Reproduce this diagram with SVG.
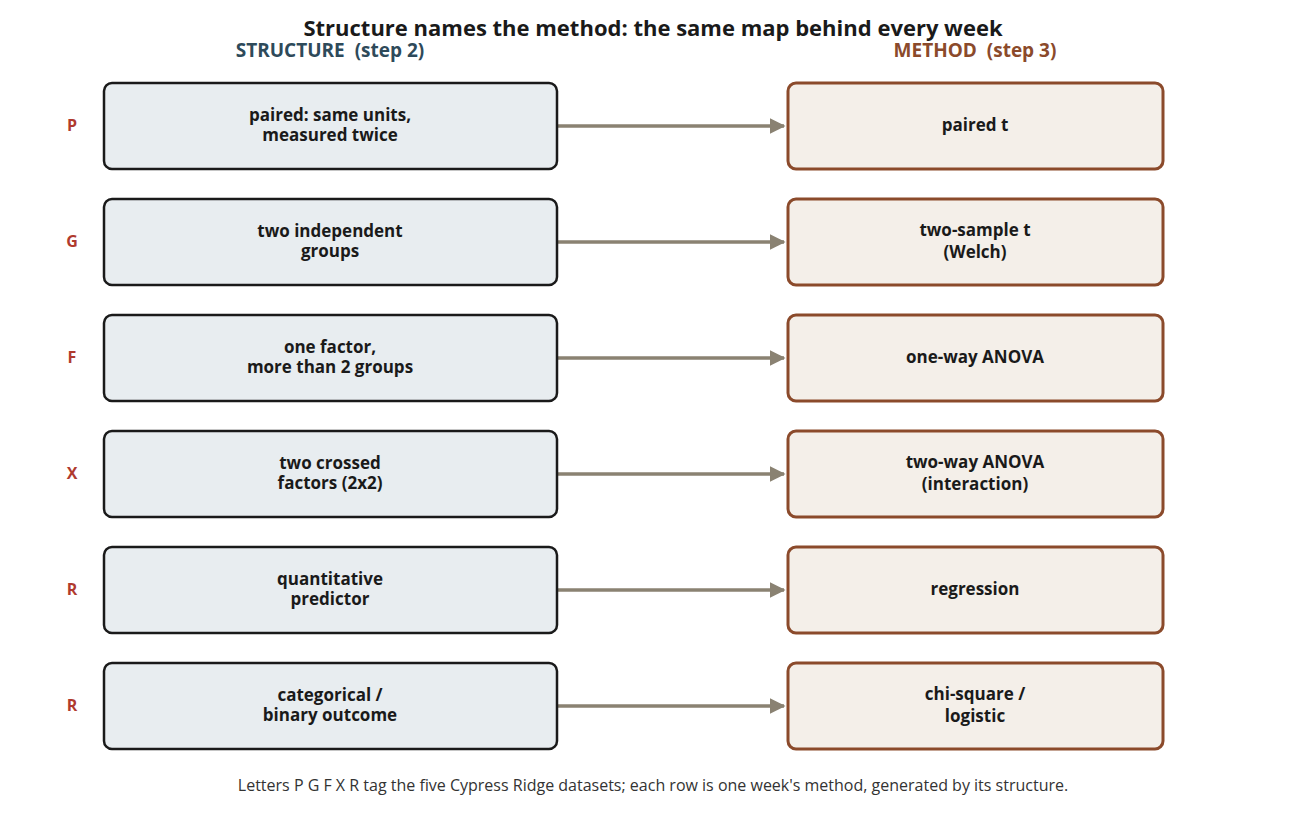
<svg xmlns="http://www.w3.org/2000/svg" width="1306" height="813" viewBox="0 0 1306 813">
<style>
text{font-family:"Open Sans","Noto Sans","DejaVu Sans",sans-serif;font-weight:bold;text-anchor:middle}
.s rect{fill:#e8edf0;stroke:#1a1a1a;stroke-width:2.5}
.m rect{fill:#f4efe9;stroke:#8b4a2b;stroke-width:3}
.t{font-size:17px;fill:#1a1a1a}
.l{font-size:16px;fill:#b03a2e}
.c line{stroke:#8a8272;stroke-width:3.5}
.f{font-weight:normal;font-size:16px;fill:#333}
</style>
<defs><marker id="a" viewBox="0 0 10 10" refX="9" refY="5" markerWidth="4.5" markerHeight="5" orient="auto" markerUnits="strokeWidth"><path d="M0,0L10,5L0,10z" fill="#8a8272"/></marker></defs>
<rect width="1306" height="813" fill="#fff"/>
<text x="653" y="36" font-size="22" fill="#1a1a1a">Structure names the method: the same map behind every week</text>
<text x="330" y="57" font-size="19" fill="#2e4a5a" xml:space="preserve">STRUCTURE  (step 2)</text>
<text x="975" y="57" font-size="19" fill="#8b4a2b" xml:space="preserve">METHOD  (step 3)</text>
<g class="c">
<line x1="557" y1="126" x2="784" y2="126" marker-end="url(#a)"/>
<line x1="557" y1="242" x2="784" y2="242" marker-end="url(#a)"/>
<line x1="557" y1="358" x2="784" y2="358" marker-end="url(#a)"/>
<line x1="557" y1="474" x2="784" y2="474" marker-end="url(#a)"/>
<line x1="557" y1="590" x2="784" y2="590" marker-end="url(#a)"/>
<line x1="557" y1="706" x2="784" y2="706" marker-end="url(#a)"/>
</g>
<g id="lbl">
<text class="l" x="72" y="131">P</text><text class="l" x="72" y="247">G</text><text class="l" x="72" y="363">F</text>
<text class="l" x="72" y="479">X</text><text class="l" x="72" y="595">R</text><text class="l" x="72" y="711">R</text>
</g>
<g id="s1" class="s"><rect x="104" y="83" width="453" height="86" rx="8"/><text class="t" x="330" y="121">paired: same units,</text><text class="t" x="330" y="141">measured twice</text></g>
<g id="s2" class="s"><rect x="104" y="199" width="453" height="86" rx="8"/><text class="t" x="330" y="237">two independent</text><text class="t" x="330" y="257">groups</text></g>
<g id="s3" class="s"><rect x="104" y="315" width="453" height="86" rx="8"/><text class="t" x="330" y="353">one factor,</text><text class="t" x="330" y="373">more than 2 groups</text></g>
<g id="s4" class="s"><rect x="104" y="431" width="453" height="86" rx="8"/><text class="t" x="330" y="469">two crossed</text><text class="t" x="330" y="489">factors (2x2)</text></g>
<g id="s5" class="s"><rect x="104" y="547" width="453" height="86" rx="8"/><text class="t" x="330" y="585">quantitative</text><text class="t" x="330" y="605">predictor</text></g>
<g id="s6" class="s"><rect x="104" y="663" width="453" height="86" rx="8"/><text class="t" x="330" y="701">categorical /</text><text class="t" x="330" y="721">binary outcome</text></g>
<g id="m1" class="m"><rect x="788" y="83" width="375" height="86" rx="8"/><text class="t" x="975" y="131">paired t</text></g>
<g id="m2" class="m"><rect x="788" y="199" width="375" height="86" rx="8"/><text class="t" x="975" y="236">two-sample t</text><text class="t" x="975" y="258">(Welch)</text></g>
<g id="m3" class="m"><rect x="788" y="315" width="375" height="86" rx="8"/><text class="t" x="975" y="363">one-way ANOVA</text></g>
<g id="m4" class="m"><rect x="788" y="431" width="375" height="86" rx="8"/><text class="t" x="975" y="468">two-way ANOVA</text><text class="t" x="975" y="490">(interaction)</text></g>
<g id="m5" class="m"><rect x="788" y="547" width="375" height="86" rx="8"/><text class="t" x="975" y="595">regression</text></g>
<g id="m6" class="m"><rect x="788" y="663" width="375" height="86" rx="8"/><text class="t" x="975" y="700">chi-square /</text><text class="t" x="975" y="722">logistic</text></g>
<text class="f" x="653" y="791">Letters P G F X R tag the five Cypress Ridge datasets; each row is one week's method, generated by its structure.</text>
</svg>
